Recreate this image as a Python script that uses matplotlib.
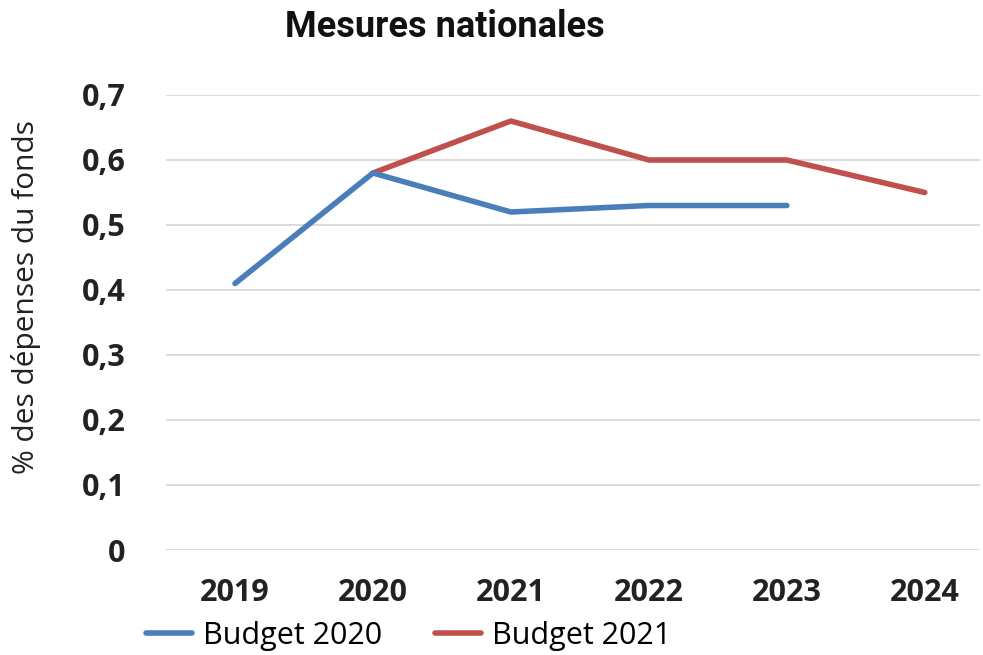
import matplotlib
matplotlib.use('Agg')
import matplotlib.pyplot as plt
from matplotlib import font_manager

annees = ['2019', '2020', '2021', '2022', '2023', '2024']
budget_2020 = [0.41, 0.58, 0.52, 0.53, 0.53, None]
budget_2021 = [None, 0.58, 0.66, 0.60, 0.60, 0.55]
graduations = [0, 0.1, 0.2, 0.3, 0.4, 0.5, 0.6, 0.7]

noms = {f.name for f in font_manager.fontManager.ttflist}
police_titre = 'Liberation Sans Narrow' if 'Liberation Sans Narrow' in noms else 'Roboto'
police = 'Open Sans'

fig = plt.figure(figsize=(9.83, 6.55), dpi=100)
ax = fig.add_axes([166/983, 1 - 550/655, 814/983, 455/655])

x = list(range(len(annees)))
x20 = [i for i, v in zip(x, budget_2020) if v is not None]
y20 = [v for v in budget_2020 if v is not None]
x21 = [i for i, v in zip(x, budget_2021) if v is not None]
y21 = [v for v in budget_2021 if v is not None]

ax.plot(x20, y20, color='#4a7ebb', lw=4, solid_capstyle='round', label='Budget 2020', zorder=3)
ax.plot(x21, y21, color='#c0504d', lw=4, solid_capstyle='round', label='Budget 2021', zorder=2)

ax.set_xlim(-0.5, 5.4)
ax.set_ylim(0, 0.7)
ax.set_xticks(x)
ax.set_xticklabels(annees, fontsize=22, fontweight='bold', family=police, color='#222222')
ax.set_yticks(graduations)
ax.set_yticklabels([('%g' % g).replace('.', ',') for g in graduations],
                   fontsize=22, fontweight='bold', family=police, color='#222222')
ax.tick_params(length=0)
ax.tick_params(axis='x', pad=20)
ax.tick_params(axis='y', pad=29)
ax.grid(axis='y', color='#d9d9d9', lw=1.3)
ax.set_axisbelow(True)
for s in ax.spines.values():
    s.set_visible(False)

ax.set_ylabel('% des dépenses du fonds', fontsize=21.5, family=police, color='#222222')
ax.yaxis.set_label_coords(-0.154, 0.556)

fig.text(445/983, 1 - 27/655, 'Mesures nationales', ha='center', va='center',
         fontsize=26, fontweight='bold', family=police_titre, color='#111111')

fig.legend(loc='center left', bbox_to_anchor=(146/983, 1 - 636/655), ncol=2, frameon=False,
           prop={'family': police, 'size': 22}, handlelength=1.5, handletextpad=0.35,
           columnspacing=1.75, borderaxespad=0, borderpad=0)

fig.savefig('out.png', dpi=100)
